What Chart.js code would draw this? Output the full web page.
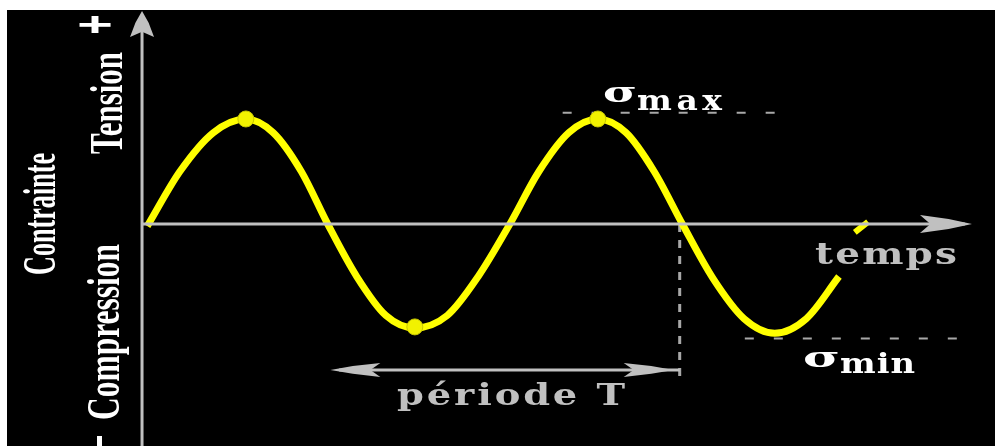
<!DOCTYPE html>
<html>
<head>
<meta charset="utf-8">
<title>Contrainte - temps</title>
<script src="https://cdn.jsdelivr.net/npm/chart.js@4.4.1/dist/chart.umd.min.js"></script>
<style>
  html, body { margin: 0; padding: 0; background: #fff; }
  #chart { display: block; }
</style>
</head>
<body>
<canvas id="chart" width="995" height="446"></canvas>
<script>
// Courbe de contrainte (temps en unités arbitraires, contrainte normalisée)
const curveTime = [0.06, 0.43, 0.81, 1.18, 1.49, 1.81, 2.11, 2.44, 2.77, 3.10, 3.47, 3.82, 4.18,
  4.51, 4.85, 5.18, 5.50, 5.82, 6.14, 6.49, 6.84, 7.19, 7.55, 7.92];
const curveStress = [-0.02, 0.50, 0.87, 1.00, 0.87, 0.50, 0.00, -0.50, -0.87, -0.99, -0.87, -0.50, 0.00,
  0.50, 0.87, 1.00, 0.87, 0.50, 0.00, -0.52, -0.90, -1.04, -0.90, -0.50];

// petit trait isolé après la fin de la courbe
const stubTime = [8.10, 8.25];
const stubStress = [-0.08, 0.02];

// points marqués (max, min, max)
const peakTime = [1.18, 3.10, 5.18];
const peakStress = [1.00, -0.98, 1.00];

// niveaux et repères
const sigmaMax = 1.06;
const sigmaMaxRange = [4.78, 7.25];
const sigmaMin = -1.09;
const sigmaMinRange = [6.85, 9.32];
const periodStart = 2.14;
const periodEnd = 6.11;
const periodLevel = -1.39;

// bornes des axes
const xRange = [-1.614, 9.693];
const yRange = [-2.114, 2.133];
const xAxisEnd = 9.35;
const yAxisTop = 1.99;

const GREY = '#c0c0c0';
const DASH_GREY = '#a8a8a8';
const YELLOW = '#ffff00';

function pts(xs, ys) {
  return xs.map((x, i) => ({ x: x, y: ys[i] }));
}

// texte espacé, étiré horizontalement (stretch) pour tenir dans width
function drawSpaced(ctx, text, left, baseline, width, stretch) {
  const chars = [...text];
  const widths = chars.map(c => ctx.measureText(c).width * stretch);
  const sum = widths.reduce((a, b) => a + b, 0);
  const gap = chars.length > 1 ? (width - sum) / (chars.length - 1) : 0;
  let x = left;
  chars.forEach((c, i) => {
    ctx.save();
    ctx.translate(x, baseline);
    ctx.scale(stretch, 1);
    ctx.fillText(c, 0, 0);
    ctx.restore();
    x += widths[i] + gap;
  });
}

function drawRotated(ctx, text, baseX, startY, length) {
  const w = ctx.measureText(text).width;
  ctx.save();
  ctx.translate(baseX, startY);
  ctx.rotate(-Math.PI / 2);
  ctx.scale(length / w, 1);
  ctx.fillText(text, 0, 0);
  ctx.restore();
}

function drawSigma(ctx, left, baseline, width) {
  ctx.save();
  ctx.font = 'bold 27px "DejaVu Serif"';
  const w = ctx.measureText('σ').width;
  ctx.translate(left, baseline);
  ctx.scale(width / w, 1);
  ctx.fillText('σ', 0, 0);
  ctx.restore();
}

function arrowHead(ctx, tipX, tipY, dir, len, half) {
  ctx.save();
  ctx.translate(tipX, tipY);
  ctx.rotate(dir);
  ctx.beginPath();
  ctx.moveTo(0, 0);
  ctx.lineTo(-len * 0.45, -half * 0.55);
  ctx.lineTo(-len, -half);
  ctx.lineTo(-len * 0.8, 0);
  ctx.lineTo(-len, half);
  ctx.lineTo(-len * 0.45, half * 0.55);
  ctx.closePath();
  ctx.fill();
  ctx.restore();
}

const frame = {
  id: 'frame',
  beforeDraw(chart) {
    const ctx = chart.ctx;
    ctx.save();
    ctx.fillStyle = '#ffffff';
    ctx.fillRect(0, 0, chart.width, chart.height);
    ctx.fillStyle = '#000000';
    ctx.fillRect(7, 10, chart.width - 7, chart.height - 10);
    ctx.restore();
  }
};

const annotations = {
  id: 'annotations',
  afterDatasetsDraw(chart) {
    const ctx = chart.ctx;
    const xs = chart.scales.x, ys = chart.scales.y;
    ctx.save();
    ctx.fillStyle = GREY;

    // flèches des axes
    arrowHead(ctx, xs.getPixelForValue(0), 11, -Math.PI / 2, 26, 12);
    arrowHead(ctx, 972, ys.getPixelForValue(0), 0, 52, 9);

    // flèche de la période
    const py = ys.getPixelForValue(periodLevel);
    arrowHead(ctx, xs.getPixelForValue(periodStart), py, Math.PI, 50, 7);
    arrowHead(ctx, xs.getPixelForValue(periodEnd) - 6, py, 0, 50, 7);

    // textes gris
    ctx.textAlign = 'left';
    ctx.textBaseline = 'alphabetic';
    ctx.font = 'bold 30px "DejaVu Serif"';
    drawSpaced(ctx, 'période T', 397, 405, 228, 1.28);
    drawSpaced(ctx, 'temps', 815, 264, 142, 1.3);

    // sigma max / min
    ctx.fillStyle = '#ffffff';
    drawSigma(ctx, 603, 102, 34);
    drawSigma(ctx, 803, 367, 37);
    ctx.font = 'bold 27px "DejaVu Serif"';
    drawSpaced(ctx, 'max', 637, 110, 85, 1.22);
    drawSpaced(ctx, 'min', 840, 373, 75, 1.25);

    // étiquettes verticales
    ctx.font = 'bold 46px "Liberation Serif"';
    drawRotated(ctx, 'Contrainte', 55, 275, 122);
    drawRotated(ctx, 'Tension', 122, 154, 102);
    drawRotated(ctx, 'Compression', 119, 420, 176);

    // signes + et -
    ctx.font = 'bold 40px "Liberation Sans"';
    ctx.save();
    const pw = ctx.measureText('+').width;
    ctx.translate(77, 36);
    ctx.scale(36 / pw, 0.85);
    ctx.fillText('+', 0, 0);
    ctx.restore();
    ctx.fillRect(97, 436, 5, 10);

    ctx.restore();
  }
};

new Chart(document.getElementById('chart'), {
  type: 'scatter',
  data: {
    datasets: [
      {
        label: 'axe temps',
        data: [{ x: 0, y: 0 }, { x: xAxisEnd, y: 0 }],
        showLine: true, borderColor: GREY, borderWidth: 3, pointRadius: 0, order: 0
      },
      {
        label: 'axe contrainte',
        data: [{ x: 0, y: yRange[0] }, { x: 0, y: yAxisTop }],
        showLine: true, borderColor: GREY, borderWidth: 3, pointRadius: 0, order: 0
      },
      {
        label: 'contrainte',
        data: pts(curveTime, curveStress),
        showLine: true, borderColor: YELLOW, borderWidth: 7, pointRadius: 0,
        cubicInterpolationMode: 'monotone', borderCapStyle: 'butt', order: 2
      },
      {
        label: 'trait',
        data: pts(stubTime, stubStress),
        showLine: true, borderColor: YELLOW, borderWidth: 6, pointRadius: 0, order: 2
      },
      {
        label: 'extrema',
        data: pts(peakTime, peakStress),
        pointRadius: 8, pointBackgroundColor: '#f2f200', pointBorderColor: '#c8c800',
        pointBorderWidth: 1, showLine: false, order: 1
      },
      {
        label: 'sigma max',
        data: [{ x: sigmaMaxRange[0], y: sigmaMax }, { x: sigmaMaxRange[1], y: sigmaMax }],
        showLine: true, borderColor: DASH_GREY, borderWidth: 2, borderDash: [9, 20], pointRadius: 0, order: 3
      },
      {
        label: 'sigma min',
        data: [{ x: sigmaMinRange[0], y: sigmaMin }, { x: sigmaMinRange[1], y: sigmaMin }],
        showLine: true, borderColor: DASH_GREY, borderWidth: 2, borderDash: [9, 20], pointRadius: 0, order: 3
      },
      {
        label: 'repère période',
        data: [{ x: periodEnd, y: 0 }, { x: periodEnd, y: periodLevel - 0.07 }],
        showLine: true, borderColor: DASH_GREY, borderWidth: 3, borderDash: [8, 8], pointRadius: 0, order: 3
      },
      {
        label: 'période',
        data: [{ x: periodStart + 0.1, y: periodLevel }, { x: periodEnd, y: periodLevel }],
        showLine: true, borderColor: GREY, borderWidth: 3, pointRadius: 0, order: 0
      }
    ]
  },
  options: {
    responsive: false,
    animation: false,
    devicePixelRatio: 1,
    layout: { padding: 0, autoPadding: false },
    plugins: {
      legend: { display: false },
      tooltip: { enabled: false }
    },
    scales: {
      x: { type: 'linear', display: false, min: xRange[0], max: xRange[1] },
      y: { type: 'linear', display: false, min: yRange[0], max: yRange[1] }
    }
  },
  plugins: [frame, annotations]
});
</script>
</body>
</html>
